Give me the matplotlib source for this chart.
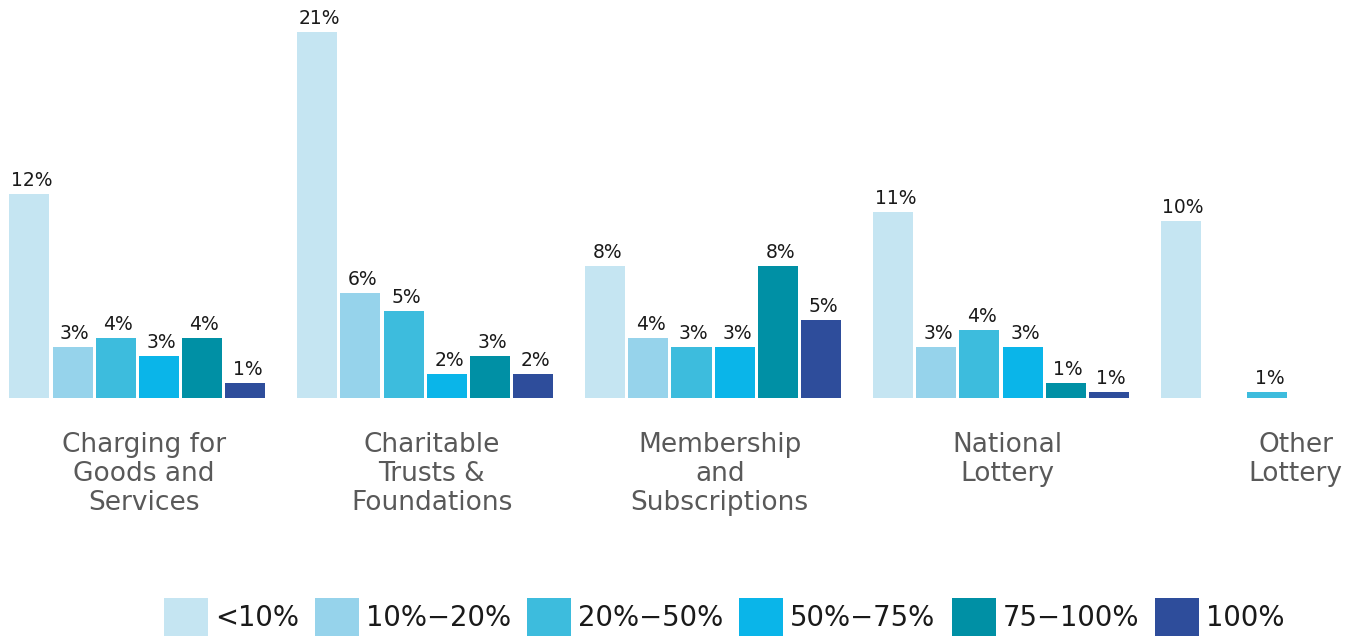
#!/usr/bin/env python3

import numpy as np
import matplotlib
matplotlib.use("Agg")
import matplotlib.pyplot as plt

# Categories (x groups)
categories = ["Charging for\nGoods and\nServices",
              "Charitable\nTrusts &\nFoundations",
              "Membership\nand\nSubscriptions",
              "National\nLottery",
              "Other\nLottery"]

# Series names (share of income band)
series_names = ["<10%", "10%\u221220%", "20%\u221250%", "50%\u221275%", "75\u2212100%", "100%"]

# Bar values in %
lt10 = [11.70, 21.00, 7.57, 10.65, 10.15]
p10_20 = [2.91, 6.01, 3.42, 2.91, 0.0]
p20_50 = [3.43, 4.99, 2.91, 3.92, 0.33]
p50_75 = [2.41, 1.38, 2.91, 2.91, 0.0]
p75_100 = [3.43, 2.41, 7.57, 0.84, 0.0]
p100 = [0.84, 1.38, 4.47, 0.33, 0.0]

# Value labels as printed on the chart
lt10_lbl = ["12%", "21%", "8%", "11%", "10%"]
p10_20_lbl = ["3%", "6%", "4%", "3%", ""]
p20_50_lbl = ["4%", "5%", "3%", "4%", "1%"]
p50_75_lbl = ["3%", "2%", "3%", "3%", ""]
p75_100_lbl = ["4%", "3%", "8%", "1%", ""]
p100_lbl = ["1%", "2%", "5%", "1%", ""]

colors = ["#c5e5f2", "#96d3eb", "#3dbcdd", "#0ab5e9", "#0090a5", "#2e4d9b"]


def main():
    values = [lt10, p10_20, p20_50, p50_75, p75_100, p100]
    labels = [lt10_lbl, p10_20_lbl, p20_50_lbl, p50_75_lbl, p75_100_lbl, p100_lbl]

    W, H = 1357, 638
    fig = plt.figure(figsize=(W / 100, H / 100), dpi=100)
    base_px = 398
    ax = fig.add_axes([0, 1 - base_px / H, 1, base_px / H])

    x = np.arange(len(categories))
    step = 0.15
    width = 0.139

    for i, (vals, lbls) in enumerate(zip(values, labels)):
        xs = x + (i - 2.5) * step
        bars = ax.bar(xs, vals, width=width, color=colors[i], label=series_names[i],
                      edgecolor='none', zorder=2)
        for b, lbl in zip(bars, lbls):
            if not lbl:
                continue
            ax.annotate(lbl, (b.get_x() + b.get_width() / 2 + 0.008, b.get_height()),
                        xytext=(0, 3), textcoords='offset points',
                        ha='center', va='bottom', fontsize=13.5, color='#1a1a1a')

    px_per_unit = 287.9
    center0 = 137.3
    ax.set_xlim(-center0 / px_per_unit, (W - center0) / px_per_unit)
    ax.set_ylim(0, base_px / 17.43)

    ax.set_xticks(x + 0.023)
    ax.set_xticklabels(categories, fontsize=19, color='#595959', linespacing=1.16)
    ax.tick_params(axis='x', length=0, pad=24.5)
    ax.set_yticks([])
    for s in ax.spines.values():
        s.set_visible(False)

    fs = 19.8
    em = fs * 100 / 72
    fig.legend(loc='upper left', bbox_to_anchor=(164 / W, 1 - 598 / H), ncol=6,
               frameon=False, fontsize=fs, handlelength=44 / em, handleheight=48 / em,
               handletextpad=7 / em, columnspacing=16 / em, borderpad=0,
               borderaxespad=0, labelcolor='#1a1a1a')

    fig.savefig("out.png", dpi=100)


if __name__ == "__main__":
    main()
